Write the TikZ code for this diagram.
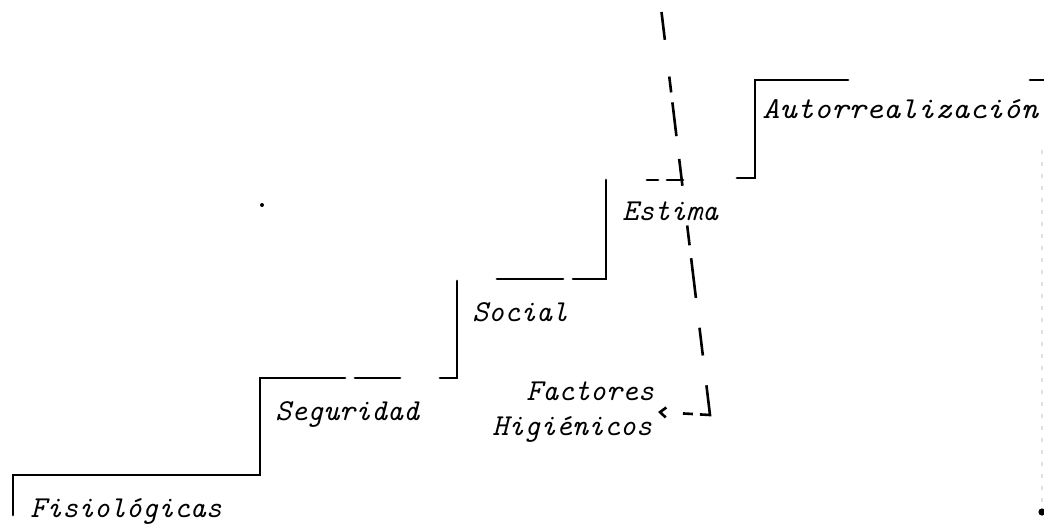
\documentclass[tikz,border=0pt]{standalone}
\usetikzlibrary{arrows.meta}
\tikzset{
	escalon/.style={line width=1.4pt, line cap=round},
	etiqueta/.style={inner sep=0pt, anchor=base west, font=\ttfamily\itshape\fontsize{15.2pt}{17.5pt}\selectfont},
	trazos/.style={line width=1.3pt, -{Straight Barb[length=3pt,width=5pt]},
		dash pattern=on 14pt off 18.5pt on 8pt off 5pt on 17pt off 11.5pt on 13.5pt off 20pt on 10pt off 6.5pt on 20pt off 15pt on 14pt off 15pt on 20pt off 3.5pt on 5pt off 15pt},
}
\begin{document}
\begin{tikzpicture}[x=0.5pt, y=-0.5pt]
			%%%%% START %%%%%
			\useasboundingbox (0,0) rectangle (1044,525);
			
			% escalones
			\draw[escalon] (13,515) -- (13,475) -- (260,475) -- (260,378) -- (345,378);
			\draw[escalon] (355,378) -- (400,378);
			\draw[escalon] (440,378) -- (457,378) -- (457,281);
			\draw[escalon] (497,279) -- (563,279);
			\draw[escalon] (573,279) -- (606,279) -- (606,180);
			\draw[escalon] (647,180) -- (658,180);
			\draw[escalon] (667,180) -- (683,180);
			\draw[escalon] (737,178) -- (755,178) -- (755,80) -- (848,80);
			\draw[escalon] (1030,80) -- (1044,80);
			
			% niveles
			\node[etiqueta] (fisio) at (30,517) {Fisiológicas};
			\node[etiqueta] (segur) at (275,420) {Seguridad};
			\node[etiqueta] (social) at (472,321) {Social};
			\node[etiqueta] (estima) at (622,220) {Estima};
			\node[etiqueta] (autorr) at (762,118) {\scalebox{1.08}[1]{Autorrealización}};
			
			\node[etiqueta] (factores) at (526,400) {Factores};
			\node[etiqueta] (higien) at (492,435) {Higiénicos};
			
			% linea de factores
			\coordinate (arriba) at (661.5,12);
			\coordinate (giro) at (710,415);
			\coordinate (punta) at (658,412);
			\draw[trazos] (arriba) -- (giro) -- (punta);
			
			% marcas sueltas
			\fill (262,205) circle (1pt);
			\draw[black!12, line width=0.8pt, dash pattern=on 2pt off 4pt] (1042,150) -- (1042,505);
			\fill (1042,512) circle (1.8pt);
			
			%%%%% END %%%%%
\end{tikzpicture}
\end{document}
